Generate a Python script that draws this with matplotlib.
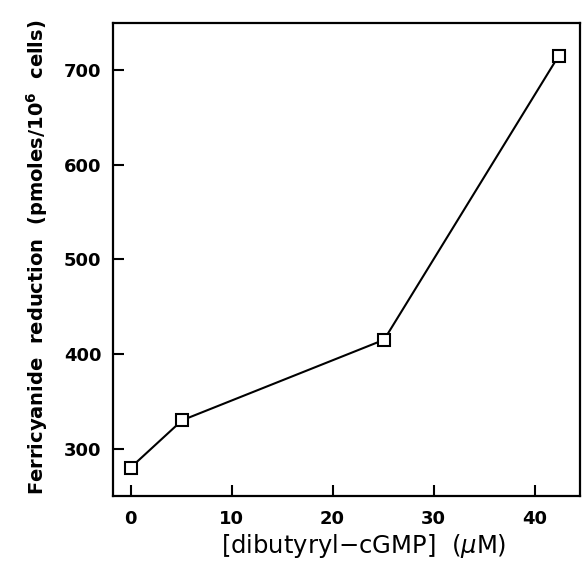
import matplotlib
matplotlib.use("Agg")
import matplotlib.pyplot as plt

# Data
conc_uM = [0.0, 5.1, 25.1, 42.4]
ferricyanide = [280, 330, 415, 715]
xticks = [0, 10, 20, 30, 40]
yticks = [300, 400, 500, 600, 700]

fig = plt.figure(figsize=(5.86, 5.61), dpi=100)
ax = fig.add_axes([113 / 586, 65 / 561, 467 / 586, 473.5 / 561])

ax.plot(conc_uM, ferricyanide, color="black", linewidth=1.5,
        marker="s", markersize=8.5, markerfacecolor="white",
        markeredgecolor="black", markeredgewidth=1.5, zorder=3)

ax.set_xlim(-1.75, 44.5)
ax.set_ylim(250, 750)
ax.set_xticks(xticks)
ax.set_yticks(yticks)

for s in ax.spines.values():
    s.set_linewidth(1.6)

ax.tick_params(direction="in", length=8, width=1.5, top=False, right=False,
               labelsize=13)
ax.tick_params(axis="x", pad=10)
ax.tick_params(axis="y", pad=8.5)
for lab in ax.get_xticklabels() + ax.get_yticklabels():
    lab.set_fontweight("bold")

ax.set_xlabel("[dibutyryl\u2212cGMP]  ($\\mu$M)", fontsize=17.5)
ax.xaxis.set_label_coords(0.5375, -0.075)
ax.set_ylabel("Ferricyanide  reduction  (pmoles/10$^{\\mathbf{6}}$  cells)",
              fontsize=14, fontweight="bold")
ax.yaxis.set_label_coords(-0.135, 0.504)

fig.savefig("out.png", dpi=100)
